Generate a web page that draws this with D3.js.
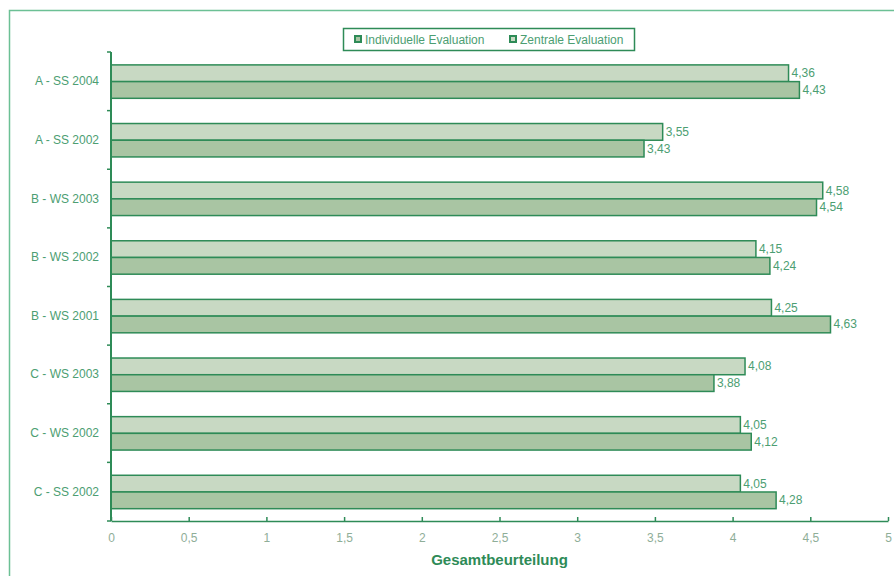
<!DOCTYPE html>
<html>
<head>
<meta charset="utf-8">
<script src="https://cdn.jsdelivr.net/npm/d3@7"></script>
<style>
  body { margin: 0; background: #fff; }
  svg { display: block; font-family: "Liberation Sans", Arial, sans-serif; }
</style>
</head>
<body>
<svg id="chart" width="894" height="576"></svg>
<script>
// categories from top to bottom
var categories = ["A - SS 2004", "A - SS 2002", "B - WS 2003", "B - WS 2002",
                  "B - WS 2001", "C - WS 2003", "C - WS 2002", "C - SS 2002"];
var seriesNames = ["Individuelle Evaluation", "Zentrale Evaluation"];
var individuell = [4.43, 3.43, 4.54, 4.24, 4.63, 3.88, 4.12, 4.28];   // lower bar
var zentral     = [4.36, 3.55, 4.58, 4.15, 4.25, 4.08, 4.05, 4.05];   // upper bar
var xTicks = [0, 0.5, 1, 1.5, 2, 2.5, 3, 3.5, 4, 4.5, 5];

var green = "#2e8b57",
    textGreen = "#4c9e72",
    tickGrey = "#8fae98";

var svg = d3.select("#chart");

// outer frame (only left and top edges visible)
svg.append("path")
    .attr("d", "M9.5,576 L9.5,10.5 L894,10.5")
    .attr("fill", "none")
    .attr("stroke", "#6cc095")
    .attr("stroke-width", 1.5);

var x = d3.scaleLinear().domain([0, 5]).range([111, 888]);
var y = d3.scaleBand().domain(categories).range([52, 521]);
var sub = d3.scaleBand().domain(["zentral", "individuell"])
    .range([y.bandwidth() * 0.22, y.bandwidth() * 0.79]);

var rows = categories.map(function(c, i) {
    return [
        {cat: c, key: "zentral", value: zentral[i], fill: "#c8d9c3"},
        {cat: c, key: "individuell", value: individuell[i], fill: "#a9c5a3"}
    ];
});
var bars = d3.merge(rows);

svg.append("g").selectAll("rect")
    .data(bars)
    .enter().append("rect")
    .attr("x", x(0))
    .attr("y", function(d) { return y(d.cat) + sub(d.key); })
    .attr("width", function(d) { return x(d.value) - x(0); })
    .attr("height", sub.bandwidth())
    .attr("fill", function(d) { return d.fill; })
    .attr("stroke", green)
    .attr("stroke-width", 1.5);

// value labels
svg.append("g").selectAll("text")
    .data(bars)
    .enter().append("text")
    .attr("x", function(d) { return x(d.value) + 3; })
    .attr("y", function(d) { return y(d.cat) + sub(d.key) + sub.bandwidth() / 2 + 4; })
    .attr("font-size", 12)
    .attr("fill", textGreen)
    .text(function(d) { return d.value.toFixed(2).replace(".", ","); });

// x axis
var xAxis = svg.append("g")
    .attr("transform", "translate(0,521)")
    .call(d3.axisBottom(x).tickValues(xTicks).tickSizeInner(-4).tickSizeOuter(0)
        .tickFormat(function(d) { return String(d).replace(".", ","); }));
xAxis.select(".domain").attr("stroke", green).attr("stroke-width", 1.5);
xAxis.selectAll(".tick line").attr("stroke", green).attr("stroke-width", 1.5);
xAxis.selectAll(".tick text")
    .attr("y", 12)
    .attr("font-size", 12)
    .attr("font-family", "Liberation Sans, Arial, sans-serif")
    .attr("fill", tickGrey);

// y axis with ticks between categories
var yAxis = svg.append("g").attr("transform", "translate(111,0)");
yAxis.append("line")
    .attr("y1", 52).attr("y2", 521)
    .attr("stroke", green).attr("stroke-width", 2);
yAxis.selectAll("line.sep")
    .data(categories.concat(["end"]))
    .enter().append("line")
    .attr("class", "sep")
    .attr("x1", -4).attr("x2", 0)
    .attr("y1", function(d, i) { return 52 + i * y.step(); })
    .attr("y2", function(d, i) { return 52 + i * y.step(); })
    .attr("stroke", green).attr("stroke-width", 1.5);
yAxis.selectAll("text")
    .data(categories)
    .enter().append("text")
    .attr("x", -12)
    .attr("y", function(d) { return y(d) + y.bandwidth() / 2 + 4; })
    .attr("text-anchor", "end")
    .attr("font-size", 12)
    .attr("fill", textGreen)
    .text(function(d) { return d; });

// axis title
svg.append("text")
    .attr("x", (x(0) + x(5)) / 2)
    .attr("y", 565)
    .attr("text-anchor", "middle")
    .attr("font-size", 15)
    .attr("font-weight", "bold")
    .attr("fill", green)
    .text("Gesamtbeurteilung");

// legend
var legend = svg.append("g");
legend.append("rect")
    .attr("x", 343.5).attr("y", 28.5)
    .attr("width", 291).attr("height", 22)
    .attr("fill", "#fff")
    .attr("stroke", green)
    .attr("stroke-width", 1.5);
var legendX = [355, 510];
var legendFill = ["#a9c5a3", "#c8d9c3"];
seriesNames.forEach(function(name, i) {
    legend.append("rect")
        .attr("x", legendX[i]).attr("y", 36)
        .attr("width", 6).attr("height", 6)
        .attr("fill", legendFill[i])
        .attr("stroke", green)
        .attr("stroke-width", 2);
    legend.append("text")
        .attr("x", legendX[i] + 10).attr("y", 43.5)
        .attr("font-size", 12)
        .attr("fill", textGreen)
        .text(name);
});
</script>
</body>
</html>
